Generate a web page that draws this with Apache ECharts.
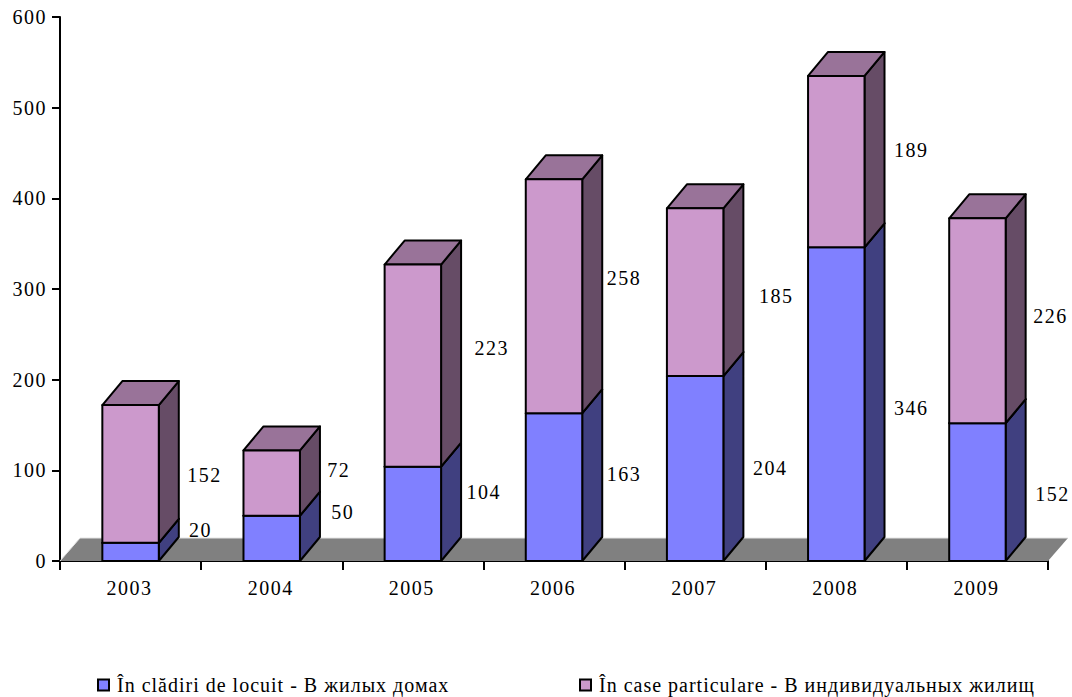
<!DOCTYPE html>
<html><head><meta charset="utf-8">
<script src="https://cdn.jsdelivr.net/npm/echarts@6/dist/echarts.min.js"></script>
<style>
html,body{margin:0;padding:0;background:#fff}
#chart{width:1072px;height:697px}
#chart text{letter-spacing:1.5px}
</style></head><body><div id="chart"></div>
<script>
const categories = ['2003','2004','2005','2006','2007','2008','2009'];
const buildingsName = 'În clădiri de locuit - В жилых домах';
const housesName = 'În case particulare - В индивидуальных жилищ';
const buildings = [20,50,104,163,204,346,152];
const houses = [152,72,223,258,185,189,226];
// where each value label sits: height in axis units, and horizontal shift from the category centre in px
const buildingsLabelAt = [34,54,76,96,103,169,74];
const housesLabelAt = [95,100,235,312,292,453,270];
const buildingsLabelShift = [70,71,71,70,75,75,75];
const housesLabelShift = [74,67,79,70,81,75,73];

const DX = 20, DY = 24, FONT = '20px "Liberation Serif"';
const black = '#000';

function poly(points, fill){
  return {type:'polygon', shape:{points}, style:{fill, stroke:black, lineWidth:2, lineJoin:'round'}};
}
function segment(front, side, top, bases, values, labelAt, labelShift){
  return function(params, api){
    const i = params.dataIndex;
    const cat = api.value(0);
    const w = api.size([1,0])[0]*0.4;
    const c = api.coord([cat, 0])[0];
    const x0 = c - w/2, x1 = c + w/2;
    const yb = api.coord([cat, bases[i]])[1];
    const yt = api.coord([cat, bases[i]+values[i]])[1];
    const kids = [
      poly([[x1,yb],[x1+DX,yb-DY],[x1+DX,yt-DY],[x1,yt]], side),
      poly([[x0,yt],[x1,yt],[x1+DX,yt-DY],[x0+DX,yt-DY]], top),
      poly([[x0,yb],[x1,yb],[x1,yt],[x0,yt]], front),
      {type:'text', silent:true, style:{
        text:String(values[i]), x:c+labelShift[i], y:api.coord([cat,labelAt[i]])[1],
        align:'center', verticalAlign:'middle', fill:'#000', font:FONT}}
    ];
    return {type:'group', children:kids};
  };
}
const zeros = categories.map(()=>0);
const legendText = {fontFamily:'Liberation Serif',fontSize:20,color:'#000',padding:[0,0,0,3]};

const chart = echarts.init(document.getElementById('chart'), null, {renderer:'svg'});
chart.setOption({
  animation:false,
  backgroundColor:'#fff',
  grid:{left:60,right:24,top:17,bottom:136},
  legend:[
    {data:[buildingsName],left:97,top:675,padding:0,itemWidth:11,itemHeight:11,icon:'rect',selectedMode:false,
     itemStyle:{borderColor:'#000',borderWidth:2},textStyle:legendText},
    {data:[housesName],left:579,top:675,padding:0,itemWidth:11,itemHeight:11,icon:'rect',selectedMode:false,
     itemStyle:{borderColor:'#000',borderWidth:2},textStyle:legendText}
  ],
  xAxis:{type:'category',data:categories,
    axisLine:{lineStyle:{color:'#000',width:2}},
    axisTick:{show:true,length:9,lineStyle:{color:'#000',width:2},alignWithLabel:false},
    axisLabel:{color:'#000',fontFamily:'Liberation Serif',fontSize:20,margin:17,padding:[0,2,0,0]},
    splitLine:{show:false}},
  yAxis:{type:'value',min:0,max:600,interval:100,
    axisLine:{show:true,lineStyle:{color:'#000',width:2}},
    axisTick:{show:true,length:8,lineStyle:{color:'#000',width:2}},
    axisLabel:{color:'#000',fontFamily:'Liberation Serif',fontSize:20,margin:13},
    splitLine:{show:false}},
  series:[
    {type:'custom',name:'floor',silent:true,data:[[0]],z:1,clip:false,
     renderItem(params){
       const g = params.coordSys;
       const yb = g.y+g.height, xl = g.x, xr = g.x+g.width;
       return {type:'group',children:[
         {type:'polygon',shape:{points:[[xl,yb],[xl+DX,yb-DY+1],[xr+DX,yb-DY+1],[xr,yb]]},style:{fill:'#808080',stroke:null}},
         {type:'polyline',shape:{points:[[xl,yb],[xl+DX,yb-DY+1],[xr+DX,yb-DY+1]]},style:{fill:null,stroke:'#e4e4e4',lineWidth:1}}
       ]};
     }},
    {type:'custom',name:buildingsName,z:2,clip:false,itemStyle:{color:'#8080ff'},
     data:categories.map((c,i)=>[i,buildings[i]]),
     renderItem:segment('#8080ff','#404080','#6060bf',zeros,buildings,buildingsLabelAt,buildingsLabelShift)},
    {type:'custom',name:housesName,z:3,clip:false,itemStyle:{color:'#cc99cc'},
     data:categories.map((c,i)=>[i,houses[i]]),
     renderItem:segment('#cc99cc','#664c66','#997399',buildings,houses,housesLabelAt,housesLabelShift)}
  ]
});
function tightenLegend(){
  document.querySelectorAll('#chart text').forEach(t=>{
    if(t.textContent===buildingsName||t.textContent===housesName) t.style.letterSpacing='1px';
  });
}
tightenLegend();
chart.on('finished',tightenLegend);
</script></body></html>
